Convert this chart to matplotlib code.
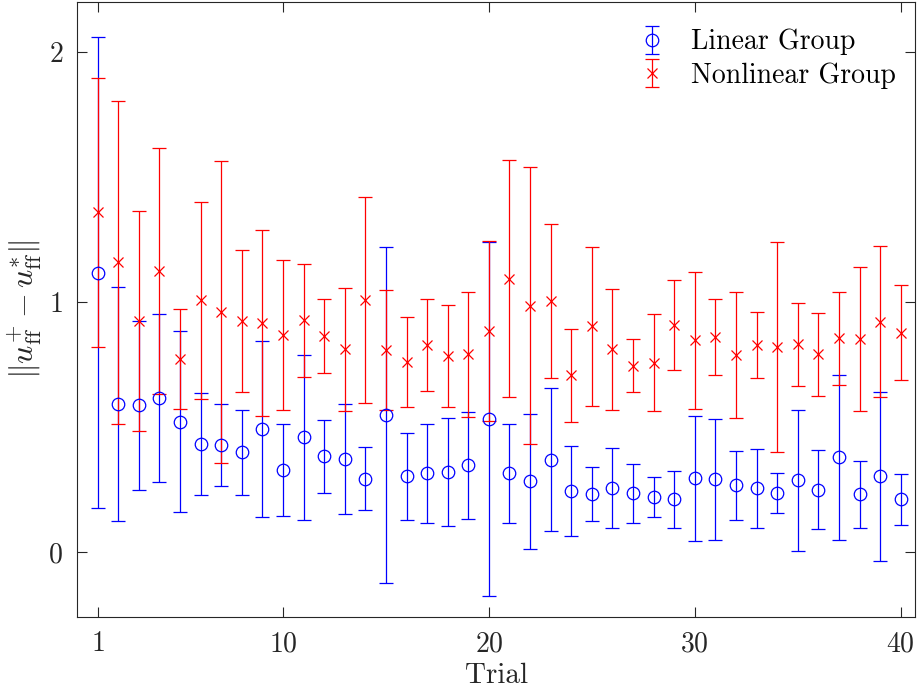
import matplotlib
matplotlib.use('Agg')
import matplotlib.pyplot as plt

plt.rcParams['font.family'] = 'serif'
plt.rcParams['font.serif'] = ['cmr10', 'DejaVu Serif']
plt.rcParams['mathtext.fontset'] = 'cm'
plt.rcParams['axes.formatter.use_mathtext'] = True

trials = list(range(1, 41))

linear_mean = [1.118, 0.593, 0.587, 0.617, 0.521, 0.432, 0.428, 0.398, 0.492, 0.327,
               0.458, 0.383, 0.372, 0.293, 0.548, 0.303, 0.315, 0.320, 0.347, 0.533,
               0.315, 0.282, 0.369, 0.242, 0.231, 0.255, 0.234, 0.219, 0.210, 0.294,
               0.291, 0.266, 0.254, 0.234, 0.287, 0.249, 0.378, 0.230, 0.303, 0.210]
linear_err = [0.943, 0.468, 0.338, 0.336, 0.362, 0.206, 0.163, 0.169, 0.352, 0.185,
              0.332, 0.146, 0.221, 0.127, 0.672, 0.175, 0.198, 0.215, 0.214, 0.709,
              0.199, 0.270, 0.287, 0.180, 0.107, 0.159, 0.117, 0.081, 0.113, 0.252,
              0.242, 0.139, 0.159, 0.080, 0.282, 0.158, 0.332, 0.133, 0.339, 0.103]

nonlinear_mean = [1.359, 1.160, 0.924, 1.125, 0.771, 1.007, 0.960, 0.924, 0.915, 0.870,
                  0.927, 0.864, 0.812, 1.010, 0.807, 0.759, 0.827, 0.785, 0.791, 0.885,
                  1.094, 0.986, 1.005, 0.707, 0.903, 0.812, 0.746, 0.758, 0.908, 0.848,
                  0.861, 0.789, 0.827, 0.819, 0.831, 0.791, 0.855, 0.852, 0.921, 0.878]
nonlinear_err = [0.538, 0.646, 0.441, 0.491, 0.200, 0.395, 0.605, 0.285, 0.372, 0.300,
                 0.227, 0.149, 0.246, 0.412, 0.240, 0.180, 0.184, 0.204, 0.251, 0.360,
                 0.474, 0.554, 0.309, 0.187, 0.319, 0.242, 0.105, 0.193, 0.179, 0.274,
                 0.152, 0.252, 0.132, 0.421, 0.165, 0.167, 0.186, 0.289, 0.302, 0.189]

x_ticks = [1, 10, 20, 30, 40]
y_ticks = [0, 1, 2]


def plot_errorbars():
    fig = plt.figure(figsize=(9.17, 6.94), dpi=100)
    ax = fig.add_axes([0.084, 0.111, 0.914, 0.886])

    ax.errorbar(trials, linear_mean, yerr=linear_err, fmt='o', color='blue',
                markerfacecolor='none', markersize=9, markeredgewidth=0.9,
                elinewidth=0.9, capsize=5, capthick=0.9, label='Linear Group')
    ax.errorbar(trials, nonlinear_mean, yerr=nonlinear_err, fmt='x', color='red',
                markersize=7, markeredgewidth=0.9,
                elinewidth=0.9, capsize=5, capthick=0.9, label='Nonlinear Group')

    ax.set_xlim(0, 40.7)
    ax.set_ylim(-0.26, 2.2)
    ax.set_xticks(x_ticks)
    ax.set_yticks(y_ticks)
    ax.tick_params(direction='in', length=7, width=0.8, top=True, right=True,
                   labelsize=20, colors='#262626', pad=10)
    for s in ax.spines.values():
        s.set_color('#262626')
        s.set_linewidth(0.8)

    ax.set_xlabel('Trial', fontsize=21, color='#262626', labelpad=4)
    ax.set_ylabel(r'$\Vert u_{\mathrm{ff}}^{+}-u_{\mathrm{ff}}^{*}\Vert$', fontsize=23,
                  color='#262626', labelpad=3)

    ax.legend(loc='upper right', bbox_to_anchor=(1.0, 0.988), frameon=False,
              fontsize=20, handlelength=1.4, handletextpad=0.7,
              borderaxespad=0.3, labelspacing=0.25)

    fig.savefig('out.png', dpi=100)


if __name__ == "__main__":
    plot_errorbars()
